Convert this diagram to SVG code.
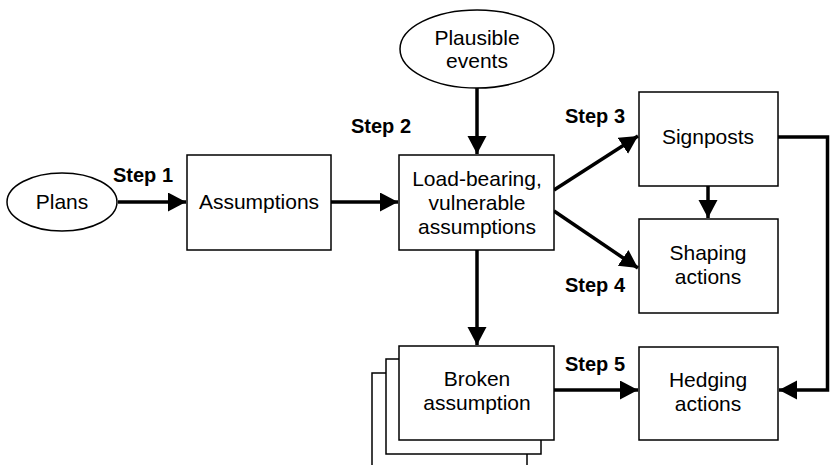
<svg xmlns="http://www.w3.org/2000/svg" width="830" height="465" viewBox="0 0 830 465">
<style>
.box{fill:#fff;stroke:#000;stroke-width:1.5}
.t{font-family:"Liberation Sans",Arial,sans-serif;font-size:21px;fill:#000;text-anchor:middle}
.s{font-family:"Liberation Sans",Arial,sans-serif;font-size:20px;font-weight:bold;fill:#000}
.c{fill:none;stroke:#000;stroke-width:3.5}
</style>
<defs>
<marker id="ah" markerUnits="userSpaceOnUse" markerWidth="20" markerHeight="20" refX="18" refY="9.5" orient="auto">
<path d="M0,0 L18,9.5 L0,19 Z" fill="#000"/>
</marker>
</defs>
<rect width="830" height="465" fill="#fff"/>
<g id="connectors">
<line class="c" x1="118" y1="202" x2="186" y2="202" marker-end="url(#ah)"/>
<line class="c" x1="331" y1="202" x2="398" y2="202" marker-end="url(#ah)"/>
<line class="c" x1="477" y1="88" x2="477" y2="154" marker-end="url(#ah)"/>
<line class="c" x1="554" y1="190" x2="638" y2="136" marker-end="url(#ah)"/>
<line class="c" x1="554" y1="211" x2="638" y2="268" marker-end="url(#ah)"/>
<line class="c" x1="708" y1="186" x2="708" y2="218" marker-end="url(#ah)"/>
<line class="c" x1="477" y1="250" x2="477" y2="345" marker-end="url(#ah)"/>
<line class="c" x1="554" y1="390" x2="638" y2="390" marker-end="url(#ah)"/>
<polyline class="c" points="778,137 827.5,137 827.5,390 779,390" marker-end="url(#ah)"/>
</g>
<g id="plans"><ellipse class="box" cx="62" cy="202" rx="55" ry="29"/><text class="t" x="62" y="209">Plans</text></g>
<g id="assumptions"><rect class="box" x="187" y="155" width="144" height="95"/><text class="t" x="259" y="209">Assumptions</text></g>
<g id="plausible"><ellipse class="box" cx="477" cy="49" rx="77" ry="39"/><text class="t" x="477" y="45">Plausible</text><text class="t" x="477" y="68">events</text></g>
<g id="loadbearing"><rect class="box" x="399" y="155" width="155" height="95"/><text class="t" x="477" y="186">Load-bearing,</text><text class="t" x="477" y="210">vulnerable</text><text class="t" x="477" y="234">assumptions</text></g>
<g id="signposts"><rect class="box" x="639" y="92" width="139" height="94"/><text class="t" x="708" y="144">Signposts</text></g>
<g id="shaping"><rect class="box" x="639" y="219" width="139" height="94"/><text class="t" x="708" y="260">Shaping</text><text class="t" x="708" y="284">actions</text></g>
<g id="hedging"><rect class="box" x="639" y="347" width="139" height="93"/><text class="t" x="708" y="387">Hedging</text><text class="t" x="708" y="411">actions</text></g>
<g id="broken">
<rect class="box" x="372" y="373" width="155" height="100"/>
<rect class="box" x="386" y="359" width="155" height="95"/>
<rect class="box" x="399" y="346" width="155" height="94"/>
<text class="t" x="477" y="386">Broken</text><text class="t" x="477" y="410">assumption</text>
</g>
<g id="labels">
<text class="s" x="113" y="182">Step 1</text>
<text class="s" x="351" y="133">Step 2</text>
<text class="s" x="565" y="123">Step 3</text>
<text class="s" x="565" y="292">Step 4</text>
<text class="s" x="565" y="371">Step 5</text>
</g>
</svg>
